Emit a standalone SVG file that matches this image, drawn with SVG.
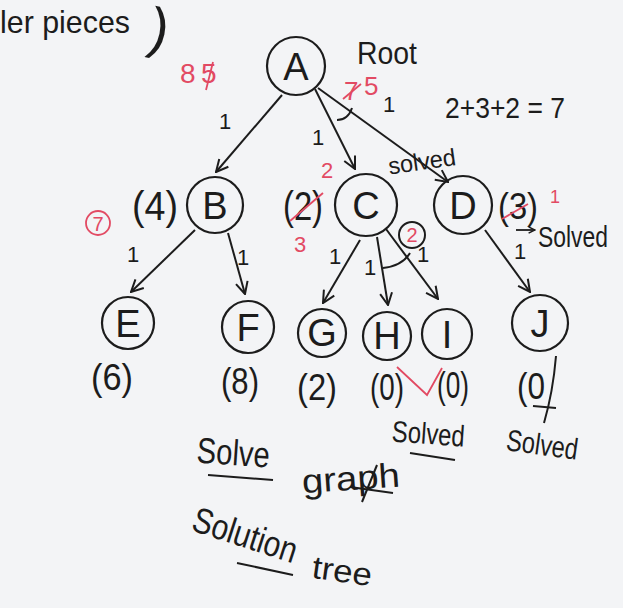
<svg xmlns="http://www.w3.org/2000/svg" width="623" height="608" viewBox="0 0 623 608">
<defs>
<style>
.bg{fill:#f3f4f6}
.ring{fill:none;stroke:#1c1c1c;stroke-width:2.2}
.ink{fill:#1c1c1c;font-family:"Liberation Sans","DejaVu Sans",sans-serif}
.red{fill:#e24a63;font-family:"Liberation Sans","DejaVu Sans",sans-serif}
.lbl{font-size:38px;text-anchor:middle}
.one{font-size:22px;text-anchor:middle}
.edge{fill:none;stroke:#1c1c1c;stroke-width:2;marker-end:url(#arr)}
.mark{fill:none;stroke:#1c1c1c;stroke-width:2}
.rmark{fill:none;stroke:#e24a63;stroke-width:1.8}
</style>
<marker id="arr" viewBox="0 0 14 14" refX="13" refY="7" markerWidth="14" markerHeight="14" markerUnits="userSpaceOnUse" orient="auto">
<path d="M1,1 L13,7 L1,13" fill="none" stroke="#1c1c1c" stroke-width="2"/>
</marker>
<marker id="arrS" viewBox="0 0 10 10" refX="9" refY="5" markerWidth="8" markerHeight="8" markerUnits="userSpaceOnUse" orient="auto">
<path d="M1,1 L9,5 L1,9" fill="none" stroke="#1c1c1c" stroke-width="1.8"/>
</marker>
</defs>
<rect class="bg" x="0" y="0" width="623" height="608"/>

<g id="header">
<text class="ink" x="0" y="33" font-size="32" textLength="130" lengthAdjust="spacingAndGlyphs">ler pieces</text>
<text class="ink" x="150" y="48" font-size="56" transform="rotate(12 160 30)">)</text>
</g>

<g id="connectors">
<path class="edge" d="M282,95 L216,172"/>
<path class="edge" d="M315,89 L355,169"/>
<path class="edge" d="M318,88 L448,182"/>
<path class="mark" d="M337,120 Q348,120 352,108"/>
<path class="edge" d="M195,230 L131,292"/>
<path class="edge" d="M228,233 L245,294"/>
<path class="edge" d="M360,240 L323,303"/>
<path class="edge" d="M377,237 L388,305"/>
<path class="edge" d="M386,229 L438,299"/>
<path class="mark" d="M383,268 Q402,266 410,253"/>
<path class="edge" d="M485,230 L530,292"/>
<path d="M516,230 L535,230" fill="none" stroke="#1c1c1c" stroke-width="1.8" marker-end="url(#arrS)"/>
</g>

<g id="node-A">
<circle class="ring" cx="296" cy="66" r="29"/>
<text class="ink lbl" x="296" y="80">A</text>
</g>
<g id="node-B">
<circle class="ring" cx="215" cy="205" r="28"/>
<text class="ink lbl" x="215" y="219">B</text>
</g>
<g id="node-C">
<circle class="ring" cx="366" cy="205" r="31"/>
<text class="ink lbl" x="366" y="219">C</text>
</g>
<g id="node-D">
<circle class="ring" cx="463" cy="205" r="29"/>
<text class="ink lbl" x="463" y="219">D</text>
</g>
<g id="node-E">
<circle class="ring" cx="128" cy="323" r="26"/>
<text class="ink lbl" x="128" y="337">E</text>
</g>
<g id="node-F">
<circle class="ring" cx="248" cy="327" r="26"/>
<text class="ink lbl" x="248" y="341">F</text>
</g>
<g id="node-G">
<circle class="ring" cx="322" cy="333" r="24"/>
<text class="ink lbl" x="322" y="346">G</text>
</g>
<g id="node-H">
<circle class="ring" cx="387" cy="336" r="24"/>
<text class="ink lbl" x="387" y="349">H</text>
</g>
<g id="node-I">
<circle class="ring" cx="447" cy="334" r="25"/>
<text class="ink lbl" x="447" y="348">I</text>
</g>
<g id="node-J">
<circle class="ring" cx="540" cy="323" r="28"/>
<text class="ink lbl" x="540" y="337">J</text>
</g>

<g id="edge-costs">
<text class="ink one" x="225" y="129">1</text>
<text class="ink one" x="318" y="145">1</text>
<text class="ink one" x="389" y="112">1</text>
<text class="ink one" x="133" y="262">1</text>
<text class="ink one" x="243" y="265">1</text>
<text class="ink one" x="335" y="264">1</text>
<text class="ink one" x="370" y="275">1</text>
<text class="ink one" x="423" y="262">1</text>
<text class="ink one" x="520" y="259">1</text>
</g>

<g id="annotations">
<text class="ink" x="357" y="64" font-size="32" textLength="60" lengthAdjust="spacingAndGlyphs">Root</text>
<text class="ink" x="445" y="118" font-size="29" textLength="120" lengthAdjust="spacingAndGlyphs">2+3+2 = 7</text>
<text class="red" x="180" y="83" font-size="28">8</text>
<text class="red" x="201" y="83" font-size="28">5</text>
<path class="rmark" d="M206,90 L213,62"/>
<text class="red" x="344" y="100" font-size="26">7</text>
<text class="red" x="364" y="95" font-size="26">5</text>
<path class="rmark" d="M343,99 L361,84"/>

<text class="ink" x="132" y="220" font-size="40" textLength="46" lengthAdjust="spacingAndGlyphs">(4)</text>
<text class="ink" x="283" y="220" font-size="40" textLength="40" lengthAdjust="spacingAndGlyphs">(2)</text>
<path class="rmark" d="M290,221 L323,193"/>
<text class="red" x="327" y="178" font-size="22" text-anchor="middle">2</text>
<text class="red" x="300" y="252" font-size="22" text-anchor="middle">3</text>
<text class="ink" x="498" y="219" font-size="36" textLength="40" lengthAdjust="spacingAndGlyphs">(3)</text>
<path class="rmark" d="M502,219 L528,204"/>
<text class="red" x="555" y="203" font-size="18" text-anchor="middle">1</text>
<text class="ink" x="538" y="247" font-size="30" textLength="70" lengthAdjust="spacingAndGlyphs">Solved</text>
<text class="ink" x="388" y="170" font-size="24" textLength="68" lengthAdjust="spacingAndGlyphs" transform="rotate(-8 420 162)">solved</text>

<circle cx="98" cy="223" r="12" fill="none" stroke="#e24a63" stroke-width="1.8"/>
<text class="red" x="98" y="231" font-size="20" text-anchor="middle">7</text>
<circle cx="412" cy="235" r="13" fill="none" stroke="#1c1c1c" stroke-width="2"/>
<text class="red" x="412" y="242" font-size="20" text-anchor="middle">2</text>

<text class="ink" x="91" y="390" font-size="36" textLength="42" lengthAdjust="spacingAndGlyphs">(6)</text>
<text class="ink" x="221" y="394" font-size="36" textLength="38" lengthAdjust="spacingAndGlyphs">(8)</text>
<text class="ink" x="297" y="400" font-size="36" textLength="40" lengthAdjust="spacingAndGlyphs">(2)</text>
<text class="ink" x="370" y="400" font-size="36" textLength="34" lengthAdjust="spacingAndGlyphs">(0)</text>
<text class="ink" x="437" y="398" font-size="36" textLength="32" lengthAdjust="spacingAndGlyphs">(0)</text>
<text class="ink" x="517" y="399" font-size="36" textLength="28" lengthAdjust="spacingAndGlyphs">(0</text>
<path class="mark" d="M556,356 Q553,392 544,423"/>
<path class="mark" d="M533,406 L556,408"/>
<path class="rmark" d="M397,367 L427,395 L442,368"/>

<text class="ink" x="392" y="444" font-size="30" textLength="73" lengthAdjust="spacingAndGlyphs" transform="rotate(4 428 432)">Solved</text>
<path class="mark" d="M410,453 L455,460"/>
<text class="ink" x="506" y="455" font-size="30" textLength="72" lengthAdjust="spacingAndGlyphs" transform="rotate(8 542 447)">Solved</text>

<text class="ink" x="197" y="465" font-size="36" textLength="73" lengthAdjust="spacingAndGlyphs" transform="rotate(4 233 450)">Solve</text>
<path class="mark" d="M208,475 L273,480"/>
<text class="ink" x="302" y="490" font-size="34" textLength="98" lengthAdjust="spacingAndGlyphs" transform="rotate(-4 350 480)">graph</text>
<path class="mark" d="M350,487 L393,493"/>
<path class="mark" d="M362,502 L377,465"/>
<text class="ink" x="190" y="530" font-size="36" textLength="108" lengthAdjust="spacingAndGlyphs" transform="rotate(18 190 530)">Solution</text>
<path class="mark" d="M237,563 L293,575"/>
<text class="ink" x="312" y="582" font-size="32" textLength="60" lengthAdjust="spacingAndGlyphs" transform="rotate(8 342 572)">tree</text>
</g>
</svg>
